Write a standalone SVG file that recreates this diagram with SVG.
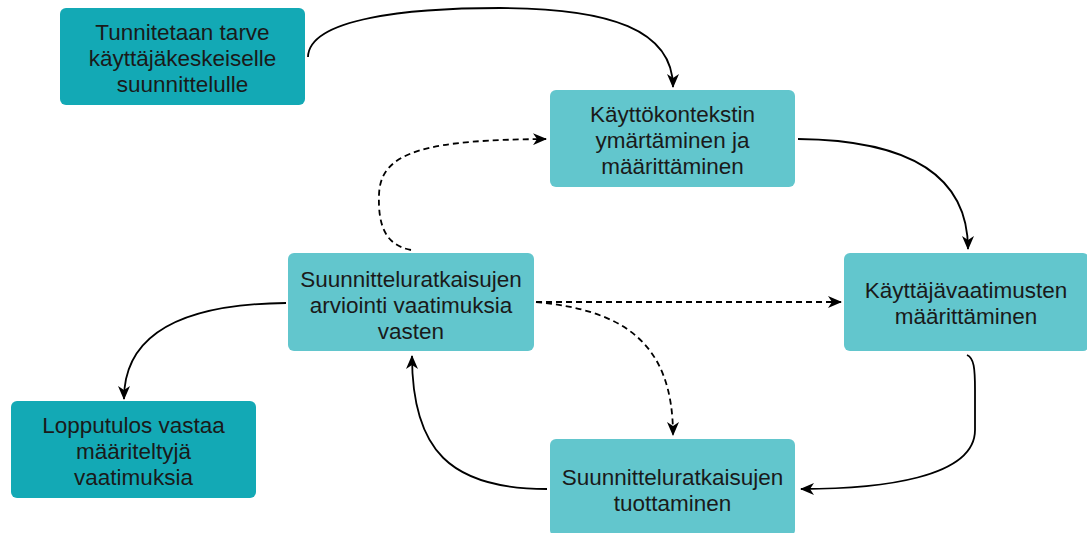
<svg xmlns="http://www.w3.org/2000/svg" width="1087" height="533" viewBox="0 0 1087 533">
<defs>
<style>
.dark{fill:#13a9b5;}
.light{fill:#62c6cd;}
.t{font-family:"Liberation Sans",Arial,sans-serif;font-size:22.5px;fill:#1a1a1a;text-anchor:middle;}
.c{fill:none;stroke:#000;stroke-width:1.8;marker-end:url(#arr);}
.d{stroke-dasharray:6 4;}
</style>
<marker id="arr" viewBox="0 0 14 12" refX="13" refY="6" markerWidth="14" markerHeight="12" markerUnits="userSpaceOnUse" orient="auto">
<path d="M0,0 L14,6 L0,12 L4,6 Z" fill="#000"/>
</marker>
</defs>
<rect width="1087" height="533" fill="#fff"/>
<g id="connectors">
<path class="c" d="M308 57 C309 18 410 8 500 8 C610 8 673 30 673 87"/>
<path class="c" d="M798 139 C900 140 968 170 968 249"/>
<path class="c" d="M967 355 C974 358 975 368 975 390 L975 430 C975 478 880 489 801 489"/>
<path class="c" d="M547 489 C450 489 412 450 412 356"/>
<path class="c" d="M286 303 C190 304 124 330 124 399"/>
<path class="c d" d="M411 250 C385 245 378 225 379 195 C380 150 430 140 546 139"/>
<path class="c d" d="M536 302 L841 302"/>
<path class="c d" d="M536 302 C620 310 673 340 673 435"/>
</g>
<g id="n1">
<rect class="dark" x="60" y="8" width="245" height="97" rx="6"/>
<text class="t" x="182.5" y="40">Tunnitetaan tarve</text>
<text class="t" x="182.5" y="66">käyttäjäkeskeiselle</text>
<text class="t" x="182.5" y="92">suunnittelulle</text>
</g>
<g id="n2">
<rect class="light" x="550" y="90" width="245" height="97" rx="6"/>
<text class="t" x="672.5" y="122">Käyttökontekstin</text>
<text class="t" x="672.5" y="148">ymärtäminen ja</text>
<text class="t" x="672.5" y="174">määrittäminen</text>
</g>
<g id="n3">
<rect class="light" x="844" y="253" width="245" height="98" rx="6"/>
<text class="t" x="966" y="298">Käyttäjävaatimusten</text>
<text class="t" x="966" y="324">määrittäminen</text>
</g>
<g id="n4">
<rect class="light" x="288" y="253" width="246" height="98" rx="6"/>
<text class="t" x="411" y="287">Suunnitteluratkaisujen</text>
<text class="t" x="411" y="313">arviointi vaatimuksia</text>
<text class="t" x="411" y="339">vasten</text>
</g>
<g id="n5">
<rect class="dark" x="11" y="401" width="245" height="97" rx="6"/>
<text class="t" x="133.5" y="433">Lopputulos vastaa</text>
<text class="t" x="133.5" y="459">määriteltyjä</text>
<text class="t" x="133.5" y="485">vaatimuksia</text>
</g>
<g id="n6">
<rect class="light" x="550" y="439" width="245" height="97" rx="6"/>
<text class="t" x="672.5" y="485">Suunnitteluratkaisujen</text>
<text class="t" x="672.5" y="511">tuottaminen</text>
</g>
</svg>
